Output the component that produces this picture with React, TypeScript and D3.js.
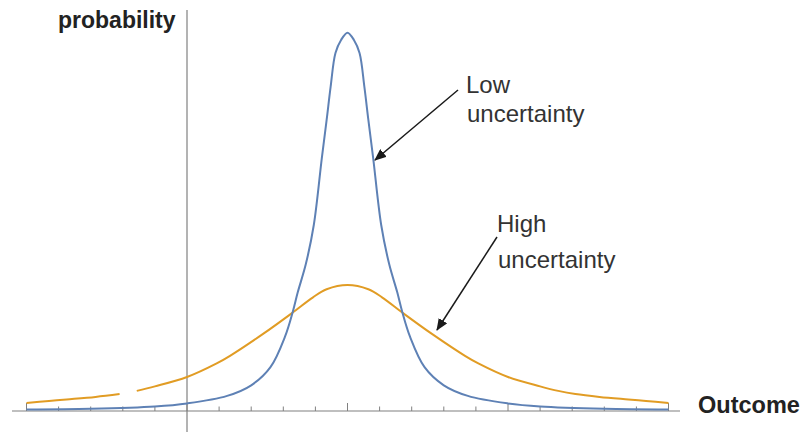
import React from "react";
import * as d3 from "d3";

// Low uncertainty curve (x in outcome units, y in probability units)
const lowX = [-1, -0.6, -0.2, 0, 0.25, 0.4, 0.52, 0.61, 0.66, 0.69, 0.74, 0.79, 0.84, 0.87, 0.895, 0.925, 0.96, 1.0, 1.04, 1.075, 1.105, 1.13, 1.16, 1.21, 1.26, 1.31, 1.34, 1.39, 1.48, 1.6, 1.75, 2.0, 2.2, 2.6, 3.0];
const lowY = [0.01, 0.015, 0.03, 0.05, 0.1, 0.17, 0.29, 0.49, 0.66, 0.785, 0.97, 1.23, 1.673, 1.925, 2.145, 2.368, 2.454, 2.502, 2.454, 2.368, 2.145, 1.925, 1.673, 1.23, 0.97, 0.785, 0.66, 0.49, 0.29, 0.17, 0.1, 0.05, 0.03, 0.015, 0.01];

// High uncertainty curve (null = gap in the line)
const highX = [-1, -0.86, -0.75, -0.57, -0.42, -0.36, -0.313, -0.2, 0, 0.185, 0.268, 0.474, 0.652, 0.785, 0.87, 1.0, 1.13, 1.215, 1.348, 1.526, 1.732, 1.815, 2.0, 2.2, 2.313, 2.42, 2.57, 2.75, 2.86, 3.0];
const highY: (number | null)[] = [0.053, 0.066, 0.076, 0.093, 0.112, null, 0.133, 0.163, 0.225, 0.315, 0.365, 0.51, 0.646, 0.752, 0.805, 0.833, 0.805, 0.752, 0.646, 0.51, 0.365, 0.315, 0.225, 0.163, 0.133, 0.112, 0.093, 0.076, 0.066, 0.053];

const tickValues = d3.range(-1, 3.0001, 0.2).map((v) => Math.round(v * 10) / 10);

const labels = {
  yAxis: "probability",
  xAxis: "Outcome",
  low: ["Low", "uncertainty"],
  high: ["High", "uncertainty"],
};

export default function App() {
  const W = 804;
  const H = 432;
  const x = d3.scaleLinear().domain([-1, 3]).range([26.5, 668.5]);
  const y = d3.scaleLinear().domain([0, 2.5]).range([411, 33]);

  const lowData = lowX.map((v, i) => ({ x: v, y: lowY[i] as number | null }));
  const highData = highX.map((v, i) => ({ x: v, y: highY[i] }));

  const line = d3
    .line<{ x: number; y: number | null }>()
    .defined((d) => d.y != null)
    .x((d) => x(d.x))
    .y((d) => y(d.y as number))
    .curve(d3.curveCatmullRom.alpha(0.5));

  const font = "'Liberation Sans', Arial, Helvetica, sans-serif";
  const axisColor = "#808080";
  const x0 = x(0);
  const yBase = y(0);

  return (
    <div style={{ position: "fixed", left: 0, top: 0 }}>
      <svg width={W} height={H} style={{ display: "block", background: "#fff" }}>
        <defs>
          <marker id="arrow" viewBox="0 0 12 10" refX="11" refY="5" markerWidth="12" markerHeight="10" markerUnits="userSpaceOnUse" orient="auto">
            <path d="M0,0 L12,5 L0,10 Z" fill="#1a1a1a" />
          </marker>
        </defs>

        {/* x axis */}
        <line x1={12} x2={680} y1={yBase} y2={yBase} stroke={axisColor} strokeWidth={1.2} />
        {tickValues.map((t) => {
          const major = Math.abs(t - Math.round(t)) < 1e-6;
          return (
            <line key={t} x1={x(t)} x2={x(t)} y1={yBase} y2={yBase - (major ? 8 : 4.5)} stroke={axisColor} strokeWidth={1} />
          );
        })}
        {/* y axis */}
        <line x1={x0} x2={x0} y1={10} y2={432} stroke={axisColor} strokeWidth={1.2} />

        {/* curves */}
        <path d={line(highData) || ""} fill="none" stroke="#E19C24" strokeWidth={2} />
        <path d={line(lowData) || ""} fill="none" stroke="#5E81B5" strokeWidth={2} />

        {/* axis labels */}
        <text x={58} y={28} fontFamily={font} fontSize={23} fontWeight="bold" fill="#222">{labels.yAxis}</text>
        <text x={698} y={413} fontFamily={font} fontSize={23.5} fontWeight="bold" fill="#222">{labels.xAxis}</text>

        {/* annotations */}
        <text x={466} y={93} fontFamily={font} fontSize={24} fill="#333">{labels.low[0]}</text>
        <text x={467} y={122} fontFamily={font} fontSize={24} fill="#333">{labels.low[1]}</text>
        <line x1={458} y1={90} x2={375} y2={160} stroke="#1a1a1a" strokeWidth={1.5} markerEnd="url(#arrow)" />

        <text x={497} y={232} fontFamily={font} fontSize={24} fill="#333">{labels.high[0]}</text>
        <text x={498} y={268} fontFamily={font} fontSize={24} fill="#333">{labels.high[1]}</text>
        <line x1={497} y1={237} x2={437} y2={330} stroke="#1a1a1a" strokeWidth={1.5} markerEnd="url(#arrow)" />
      </svg>
    </div>
  );
}
